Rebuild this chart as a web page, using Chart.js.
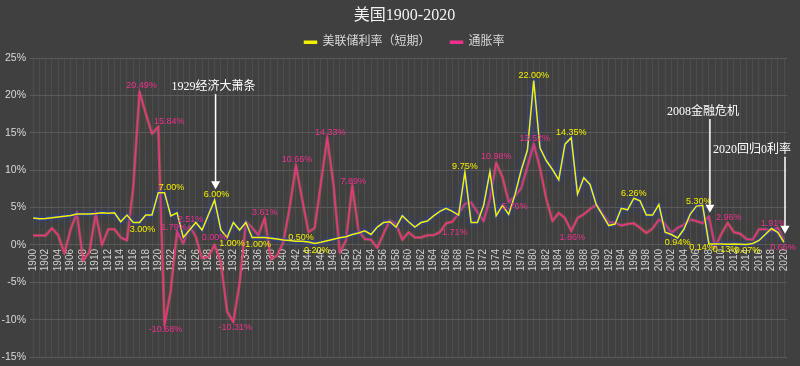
<!DOCTYPE html>
<html>
<head>
<meta charset="utf-8">
<script src="https://cdn.jsdelivr.net/npm/chart.js@4.4.1/dist/chart.umd.min.js"></script>
<style>
html, body { margin: 0; padding: 0; background: #404040; }
#wrap { width: 800px; height: 366px; }
</style>
</head>
<body>
<div id="wrap"><canvas id="usChart"></canvas></div>
<script>
// years 1900..2020
const years = Array.from({ length: 121 }, (_, i) => String(1900 + i));

// 美联储利率（短期）
const fedRate = [
  3.6, 3.5, 3.55, 3.65, 3.75, 3.85, 3.95, 4.15, 4.15, 4.15,
  4.2, 4.3, 4.25, 4.3, 3.1, 4.0, 3.0, 3.0, 4.0, 4.0,
  7.0, 7.0, 3.9, 4.3, 1.0, 2.0, 3.0, 2.0, 4.0, 6.0,
  2.0, 1.0, 3.0, 2.0, 3.0, 1.0, 1.0, 1.0, 0.9, 0.8,
  0.65, 0.6, 0.5, 0.5, 0.4, 0.2, 0.35, 0.55, 0.75, 0.95,
  1.1, 1.4, 1.6, 1.9, 1.4, 2.4, 3.0, 3.1, 2.4, 3.9,
  3.1, 2.4, 3.0, 3.2, 3.9, 4.5, 4.9, 4.5, 4.0, 9.75,
  3.0, 3.0, 5.3, 9.8, 3.9, 5.3, 4.1, 6.7, 10.0, 12.7,
  22.0, 13.0, 11.3, 10.1, 8.7, 13.5, 14.35, 6.8, 9.0, 8.1,
  5.4, 4.0, 2.6, 2.8, 4.9, 4.7, 6.26, 5.9, 4.0, 4.0,
  5.4, 1.7, 1.4, 0.94, 2.1, 4.1, 5.2, 5.3, 0.14, 0.12,
  0.13, 0.1, 0.14, 0.11, 0.07, 0.2, 0.6, 1.4, 2.2, 1.7,
  0.36
];

// 通胀率
const inflation = [
  1.27, 1.27, 1.27, 2.25, 1.3, -1.1, 2.1, 4.3, -2.1, -0.9,
  4.25, 0.0, 2.1, 2.1, 1.0, 0.6, 7.7, 20.49, 17.6, 14.9,
  15.84, -10.68, -6.1, 1.79, 0.2, 2.51, 1.1, -1.8, -1.6, 0.0,
  -2.3, -8.9, -10.31, -5.1, 3.1, 2.3, 1.3, 3.61, -1.9, -1.4,
  0.4, 5.0, 10.66, 6.1, 1.7, 2.3, 8.3, 14.33, 8.1, -1.0,
  0.6, 7.89, 1.9, 0.8, 0.7, -0.4, 1.5, 3.3, 2.8, 0.7,
  1.7, 1.0, 1.0, 1.3, 1.3, 1.71, 2.9, 3.1, 4.2, 5.5,
  5.7, 4.4, 3.2, 6.2, 10.98, 9.1, 5.76, 6.5, 7.6, 10.5,
  13.52, 10.3, 6.2, 3.2, 4.3, 3.6, 1.86, 3.6, 4.1, 4.8,
  5.4, 4.2, 3.0, 3.0, 2.6, 2.8, 2.9, 2.3, 1.6, 2.2,
  3.4, 2.8, 1.6, 2.3, 2.7, 3.4, 3.2, 2.9, 3.8, -0.3,
  1.5, 2.96, 1.7, 1.5, 0.8, 0.7, 2.1, 2.1, 1.91, 2.3,
  0.66
];

// x tick labels every second year, y ticks
const xTickLabels = years.map((y, i) => (i % 2 === 0 ? y : ''));
const yTicks = [-15, -10, -5, 0, 5, 10, 15, 20, 25];

// value labels: year, series (0 = fed, 1 = inflation), nudge
const valueLabels = [
  [1917, 0, 3, 7], [1921, 0, 7, -5], [1929, 0, 2, -6], [1931, 0, 5, 6],
  [1935, 0, 6, 7], [1942, 0, 5, -4], [1945, 0, 2, 7], [1969, 0, 0, -6],
  [1980, 0, 0, -5], [1986, 0, 0, -5], [1996, 0, 0, -5], [2007, 0, -4, -4],
  [2003, 0, 0, 5], [2008, 0, -7, 4], [2010, 0, 4, 6], [2014, 0, 1, 6],
  [1917, 1, 2, -6], [1920, 1, 11, -5], [1921, 1, 1, 5], [1923, 1, -3, -4],
  [1925, 1, 1, -7], [1929, 1, 0, -7], [1932, 1, 2, 6], [1937, 1, 0, -5],
  [1942, 1, 1, -6], [1947, 1, 3, -5], [1951, 1, 1, -4], [1965, 1, 15, 0],
  [1974, 1, 0, -6], [1976, 1, 6, 5], [1980, 1, 1, -5], [1986, 1, 1, 6],
  [2011, 1, 1, -5], [2018, 1, 2, -7], [2020, 1, -1, 7]
];

// arrows: year, text, arrow top value, arrow tip value, text shift
const notes = [
  [1929, '1929经济大萧条', 20.2, 7.45, -2],
  [2008, '2008金融危机', 16.85, 4.3, -7],
  [2020, '2020回归0利率', 11.8, 1.5, -33]
];

const lineColors = ['#f4f000', '#f0308c'];
const glowColors = ['rgba(35,65,200,0.5)', 'rgba(225,150,55,0.3)'];
const narrow = "'Liberation Sans Narrow', 'Liberation Sans', sans-serif";
const serif = "'Liberation Serif', 'Noto Sans CJK SC', serif";

const bgPlugin = {
  id: 'bg',
  beforeDraw(chart) {
    const ctx = chart.ctx;
    ctx.save();
    ctx.fillStyle = '#404040';
    ctx.fillRect(0, 0, chart.width, chart.height);
    ctx.restore();
  }
};

// soft glow under each line, traced along the points the library placed
const glowPlugin = {
  id: 'glow',
  beforeDatasetDraw(chart, args) {
    const pts = args.meta.data;
    const ctx = chart.ctx;
    ctx.save();
    ctx.beginPath();
    pts.forEach((p, i) => (i ? ctx.lineTo(p.x, p.y) : ctx.moveTo(p.x, p.y)));
    ctx.lineJoin = 'round';
    ctx.strokeStyle = glowColors[args.index];
    ctx.shadowColor = glowColors[args.index];
    ctx.shadowBlur = 7;
    ctx.lineWidth = args.index ? 3 : 4;
    ctx.stroke();
    ctx.restore();
  }
};

const labelPlugin = {
  id: 'valueLabels',
  afterDatasetsDraw(chart) {
    const ctx = chart.ctx;
    const xs = chart.scales.x, ys = chart.scales.y;
    const series = [fedRate, inflation];
    ctx.save();
    ctx.font = '9px ' + narrow;
    ctx.textAlign = 'center';
    ctx.textBaseline = 'middle';
    valueLabels.forEach(([yr, s, dx, dy]) => {
      const i = yr - 1900;
      const v = series[s][i];
      ctx.fillStyle = lineColors[s];
      ctx.fillText(v.toFixed(2) + '%', xs.getPixelForValue(i) + dx, ys.getPixelForValue(v) + dy);
    });

    // arrows and notes
    ctx.font = '12px ' + serif;
    ctx.fillStyle = '#ffffff';
    ctx.strokeStyle = '#ffffff';
    ctx.lineWidth = 1.5;
    ctx.textBaseline = 'bottom';
    notes.forEach(([yr, text, top, tip, tdx]) => {
      const x = xs.getPixelForValue(yr - 1900) + 1;
      const y0 = ys.getPixelForValue(top);
      const y1 = ys.getPixelForValue(tip);
      ctx.beginPath();
      ctx.moveTo(x, y0);
      ctx.lineTo(x, y1 - 6);
      ctx.stroke();
      ctx.beginPath();
      ctx.moveTo(x - 4.5, y1 - 8);
      ctx.lineTo(x + 4.5, y1 - 8);
      ctx.lineTo(x, y1);
      ctx.closePath();
      ctx.fill();
      ctx.fillText(text, x + tdx, y0 - 1);
    });
    ctx.restore();
  }
};

new Chart(document.getElementById('usChart'), {
  type: 'line',
  data: {
    labels: years,
    datasets: [{
      label: '美联储利率（短期）',
      data: fedRate,
      borderColor: lineColors[0],
      backgroundColor: lineColors[0],
      borderWidth: 1.5,
      pointRadius: 0,
      tension: 0
    }, {
      label: '通胀率',
      data: inflation,
      borderColor: lineColors[1],
      backgroundColor: lineColors[1],
      borderWidth: 1.5,
      pointRadius: 0,
      tension: 0
    }]
  },
  options: {
    responsive: true,
    maintainAspectRatio: false,
    animation: false,
    layout: { padding: { left: 2, right: -7, top: 0, bottom: 9 } },
    plugins: {
      title: {
        display: true,
        text: '美国1900-2020',
        color: '#f2f2f2',
        font: { family: serif, size: 16, weight: 'normal' },
        padding: { top: 6, bottom: -9 }
      },
      legend: {
        display: true,
        labels: {
          color: '#d9d9d9',
          font: { family: serif, size: 12 },
          boxWidth: 12,
          boxHeight: 2,
          padding: 20
        }
      },
      tooltip: { enabled: false }
    },
    scales: {
      x: {
        position: { y: 0 },
        offset: true,
        grid: { color: 'rgba(255,255,255,0.07)', offset: false, drawTicks: false },
        border: { display: false },
        ticks: {
          autoSkip: false,
          maxRotation: 90,
          minRotation: 90,
          padding: 4,
          color: '#d0d0d0',
          font: { family: narrow, size: 10 },
          callback: (v, i) => xTickLabels[i]
        }
      },
      y: {
        min: -15,
        max: 25,
        afterFit: (scale) => { scale.width = 28; scale.paddingBottom = 0; },
        afterBuildTicks: (scale) => { scale.ticks = yTicks.map(v => ({ value: v })); },
        grid: { color: '#5a5a5a', drawTicks: false },
        border: { display: false },
        ticks: {
          padding: 4,
          color: '#d9d9d9',
          font: { family: narrow, size: 10.5 },
          callback: (v) => v + '%'
        }
      }
    }
  },
  plugins: [bgPlugin, glowPlugin, labelPlugin]
});
</script>
</body>
</html>
